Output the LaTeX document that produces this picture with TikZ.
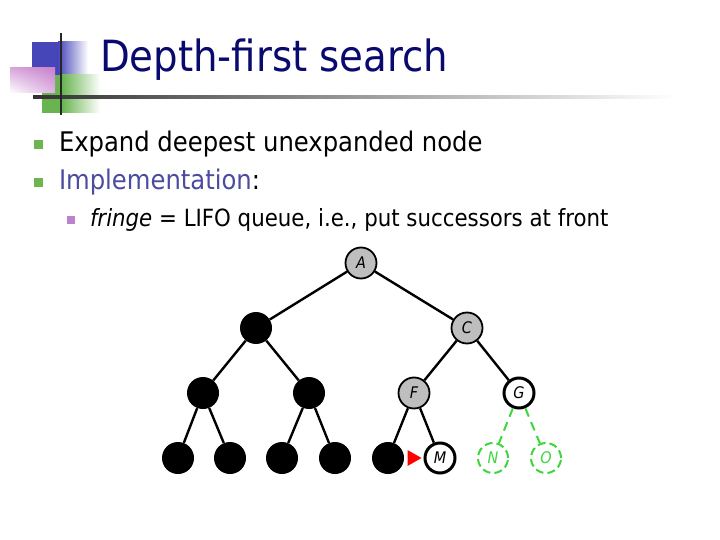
\documentclass[tikz,border=0pt]{standalone}
\usepackage{fontspec}
\setmainfont{DejaVu Sans Condensed}
\usetikzlibrary{calc,shadings}
\definecolor{titlecol}{RGB}{10,10,110}
\definecolor{implcol}{RGB}{75,75,160}
\definecolor{bulgreen}{RGB}{110,180,80}
\definecolor{bulpink}{RGB}{190,130,205}
\definecolor{decoblue}{RGB}{70,70,185}
\definecolor{decogreen}{RGB}{105,180,80}
\definecolor{decopink}{RGB}{200,130,205}
\definecolor{nodegray}{RGB}{190,190,190}
\definecolor{leafgreen}{RGB}{60,215,60}
\tikzset{
  txt/.style={anchor=base west, inner sep=0pt, outer sep=0pt},
  blk/.style={circle, fill=black, minimum size=32pt, inner sep=0pt},
  gry/.style={circle, fill=nodegray, draw=black, line width=1.8pt, minimum size=31pt, inner sep=0pt, font=\fontsize{16}{16}\selectfont\itshape},
  wht/.style={circle, fill=white, draw=black, line width=3pt, minimum size=30pt, inner sep=0pt, font=\fontsize{16}{16}\selectfont\itshape},
  grn/.style={circle, draw=leafgreen, dash pattern=on 8pt off 4pt, line width=2pt, minimum size=30pt, inner sep=0pt, text=leafgreen, font=\fontsize{16}{16}\selectfont\itshape},
  edge/.style={line width=2.4pt, black},
  gedge/.style={line width=2pt, leafgreen, dash pattern=on 9pt off 6pt},
  mainbul/.style={fill=bulgreen, minimum size=9pt, inner sep=0pt},
  subbul/.style={fill=bulpink, minimum size=8pt, inner sep=0pt}
}
\begin{document}
\begin{tikzpicture}[x=1pt, y=-1pt]
\useasboundingbox (0,0) rectangle (720,540);
% decoration
\fill[decoblue] (32,42) rectangle (58,75);
\shade[left color=decoblue, right color=white] (58,42) rectangle (88,75);
\fill[decogreen] (42,75) rectangle (62,113);
\shade[left color=decogreen, right color=white] (62,75) rectangle (100,113);
\shade[lower left=white, upper right=decopink, upper left=decopink!70, lower right=decopink!60] (10,68) rectangle (55,93);
\shade[left color=black!80, right color=white] (33,95.5) rectangle (675,98.5);
\draw[black!85, line width=2pt] (61,33) -- (61,115);
% title
\node[txt, text=titlecol, font=\fontsize{43}{43}\selectfont] (title) at (100,72) {Depth-first search};
% bullets
\node[mainbul] (b1) at (38.5,145) {};
\node[txt, font=\fontsize{27}{27}\selectfont] (t1) at (59,152) {Expand deepest unexpanded node};
\node[mainbul] (b2) at (38.5,183) {};
\node[txt, font=\fontsize{27}{27}\selectfont] (t2) at (59,190) {\textcolor{implcol}{Implementation}:};
\node[subbul] (b3) at (71,220) {};
\node[txt, font=\fontsize{23.7}{23.7}\selectfont] (t3) at (90,226) {\textit{fringe} = LIFO queue, i.e., put successors at front};
% tree
\node[gry] (A) at (361,263) {A};
\node[blk] (B) at (256,328) {};
\node[gry] (C) at (467,328) {C};
\node[blk] (D) at (203,393) {};
\node[blk] (E) at (309,393) {};
\node[gry] (F) at (414,393) {F};
\node[wht] (G) at (519,393) {G};
\node[blk] (H) at (178,458) {};
\node[blk] (I) at (230,458) {};
\node[blk] (J) at (282,458) {};
\node[blk] (K) at (335,458) {};
\node[blk] (L) at (388,458) {};
\node[wht] (M) at (440,458) {M};
\node[grn] (N) at (493,458) {N};
\node[grn] (O) at (546,458) {O};
\draw[edge] (A) -- (B);
\draw[edge] (A) -- (C);
\draw[edge] (B) -- (D);
\draw[edge] (B) -- (E);
\draw[edge] (C) -- (F);
\draw[edge] (C) -- (G);
\draw[edge] (D) -- (H);
\draw[edge] (D) -- (I);
\draw[edge] (E) -- (J);
\draw[edge] (E) -- (K);
\draw[edge] (F) -- (L);
\draw[edge] (F) -- (M);
\draw[gedge] (G) -- (N);
\draw[gedge] (G) -- (O);
% red pointer
\coordinate (tip) at ($(M.west)+(-2,0)$);
\fill[red] (tip) -- ++(-14,-8) -- ++(0,16) -- cycle;
\end{tikzpicture}
\end{document}
